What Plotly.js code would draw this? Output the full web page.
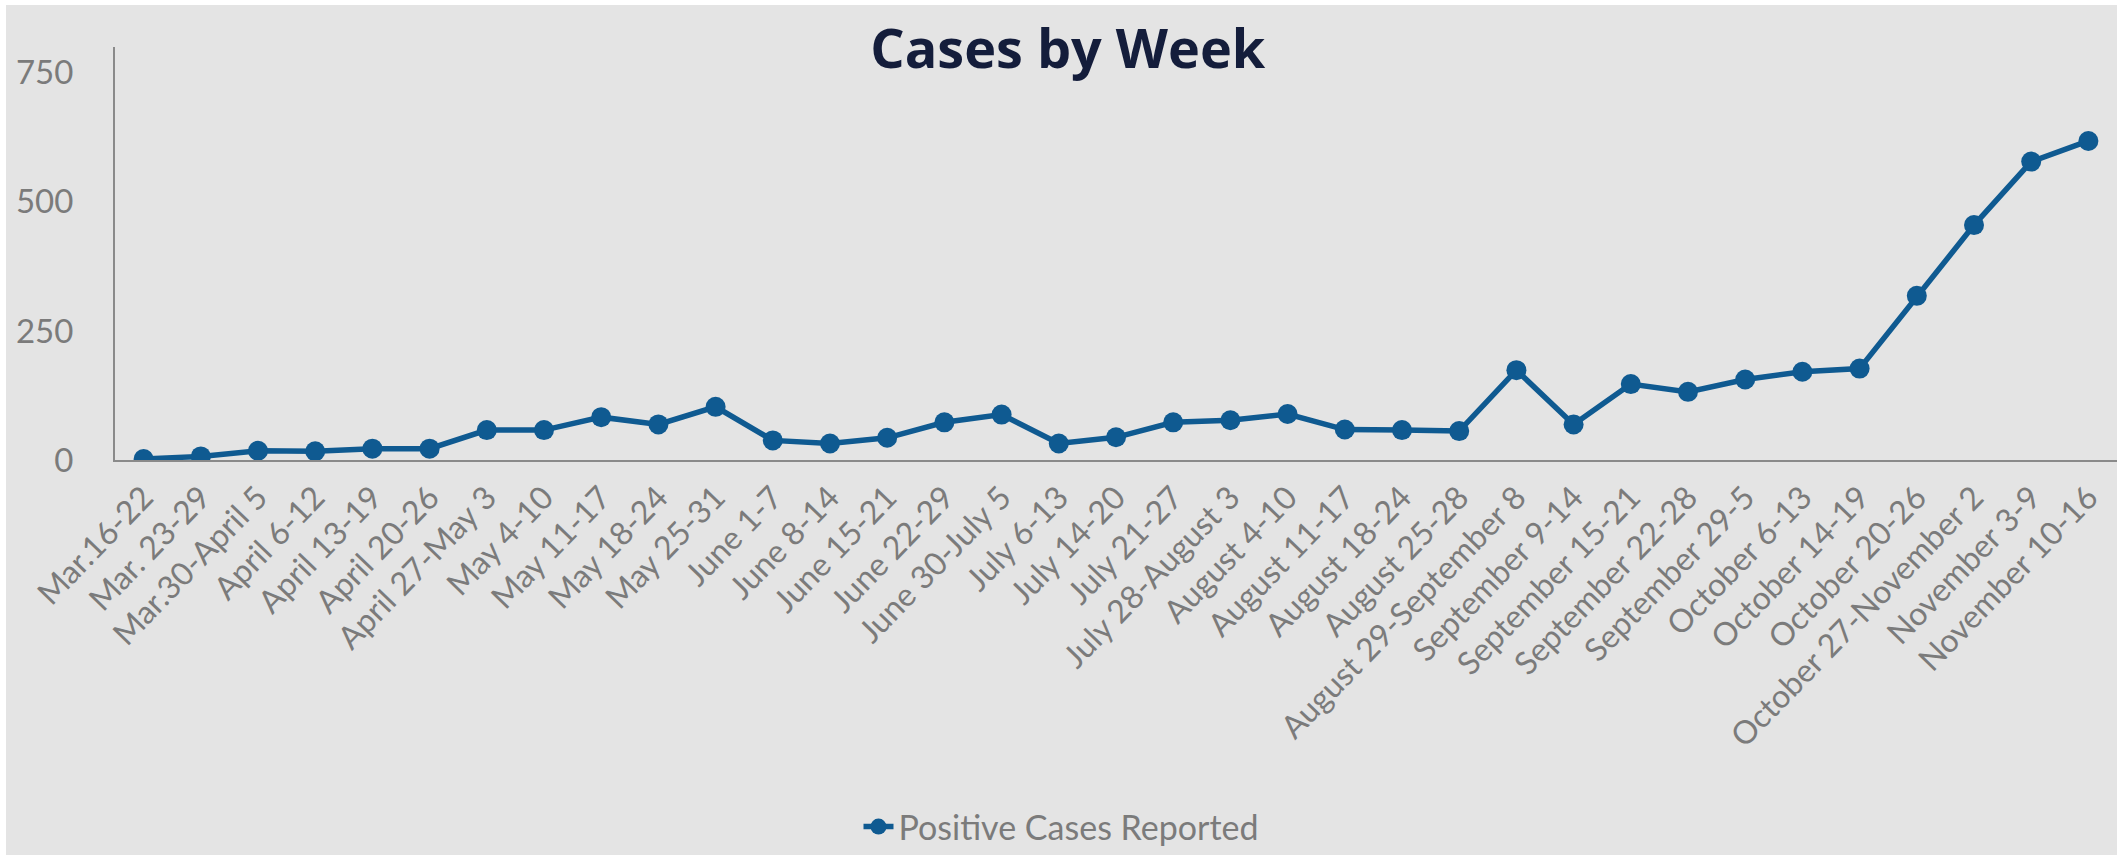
<!DOCTYPE html>
<html>
<head>
<meta charset="utf-8">
<script src="https://cdn.plot.ly/plotly-3.0.1.min.js"></script>
<style>
  html, body { margin: 0; padding: 0; background: #ffffff; }
  #chart { position: absolute; left: 6px; top: 5px; width: 2111px; height: 850px; }
</style>
</head>
<body>
<div id="chart"></div>
<script>
// Week labels and weekly positive case counts
const weeks = [
  'Mar.16-22', 'Mar. 23-29', 'Mar.30-April 5', 'April 6-12', 'April 13-19',
  'April 20-26', 'April 27-May 3', 'May 4-10', 'May 11-17', 'May 18-24',
  'May 25-31', 'June 1-7', 'June 8-14', 'June 15-21', 'June 22-29',
  'June 30-July 5', 'July 6-13', 'July 14-20', 'July 21-27', 'July 28-August 3',
  'August 4-10', 'August 11-17', 'August 18-24', 'August 25-28', 'August 29-September 8',
  'September 9-14', 'September 15-21', 'September 22-28', 'September 29-5', 'October 6-13',
  'October 14-19', 'October 20-26', 'October 27-November 2', 'November 3-9', 'November 10-16'
];

const positiveCases = [
  2, 7, 18, 17, 22,
  22, 58, 58, 83, 69,
  103, 38, 32, 43, 73,
  88, 32, 44, 73, 77,
  89, 59, 58, 56, 174,
  69, 147, 132, 156, 171,
  177, 318, 455, 578, 618
];

const yTicks = [0, 250, 500, 750];

const lineColor = '#0f5a91';
const textGray = '#7b7b7b';

const traces = [
  {
    x: weeks,
    y: positiveCases,
    type: 'scatter',
    mode: 'lines+markers',
    name: 'Positive Cases Reported',
    line: { color: lineColor, width: 5.5 },
    marker: { color: lineColor, size: 20 }
  }
];

const layout = {
  width: 2111,
  height: 850,
  paper_bgcolor: '#e4e4e4',
  plot_bgcolor: '#e4e4e4',
  margin: { l: 109, r: 0, t: 42, b: 395, pad: 0 },
  font: { family: 'Lato, "Open Sans", sans-serif', color: textGray, size: 32 },
  title: {
    text: '<b>Cases by Week</b>',
    font: { family: '"Open Sans", sans-serif', size: 54, color: '#141d3b' },
    x: 0.503,
    xref: 'container',
    xanchor: 'center',
    y: 0.948,
    yanchor: 'middle'
  },
  xaxis: {
    type: 'category',
    range: [-0.5, 34.5],
    showline: true,
    linecolor: '#8a8a8a',
    linewidth: 2,
    showgrid: false,
    zeroline: false,
    ticks: '',
    tickangle: -46,
    tickfont: { size: 32, color: textGray },
    ticklabelstandoff: 4
  },
  yaxis: {
    range: [0, 800],
    tickvals: yTicks,
    showline: true,
    linecolor: '#8a8a8a',
    linewidth: 2,
    showgrid: false,
    zeroline: false,
    ticks: '',
    tickfont: { size: 33, color: textGray },
    ticklabelstandoff: 33
  },
  showlegend: true,
  legend: {
    orientation: 'h',
    xref: 'container',
    yref: 'container',
    x: 0.5,
    xanchor: 'center',
    y: 0.033,
    yanchor: 'middle',
    bgcolor: 'rgba(0,0,0,0)',
    font: { size: 34, color: textGray }
  }
};

const config = {
  responsive: false,
  displayModeBar: false
};

Plotly.newPlot('chart', traces, layout, config);
</script>
</body>
</html>
